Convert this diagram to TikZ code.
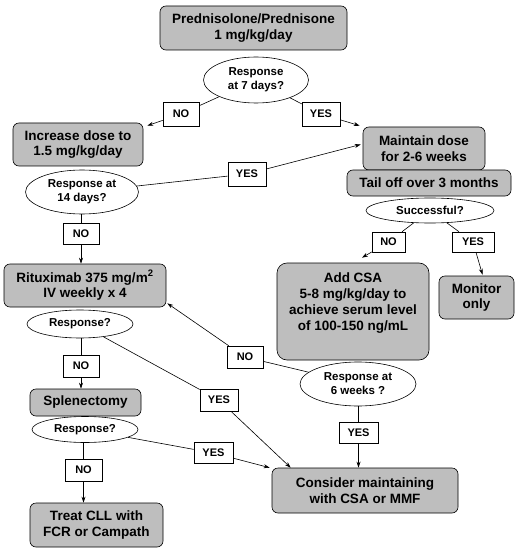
\documentclass[tikz,border=0pt]{standalone}
\usepackage{fontspec}
\setmainfont{Liberation Sans}
\usetikzlibrary{shapes.geometric,arrows.meta,calc}
\definecolor{boxgray}{RGB}{190,190,190}
\begin{document}
\begin{tikzpicture}[x=1pt,y=-1pt,
  box/.style={draw, fill=boxgray, rounded corners=6pt, align=center, inner sep=0pt,
    font=\bfseries\fontsize{13.5}{15.7}\selectfont, line width=0.6pt},
  btext/.style={align=center, inner sep=0pt, font=\bfseries\fontsize{13.5}{15.7}\selectfont},
  dec/.style={ellipse, draw, fill=white, align=center, inner sep=0pt,
    font=\bfseries\fontsize{11.5}{14}\selectfont, line width=0.6pt},
  lbl/.style={draw, fill=white, inner sep=0pt, minimum height=22pt,
    font=\bfseries\fontsize{11}{12}\selectfont, line width=0.6pt},
  conn/.style={line width=0.6pt},
  arr/.style={line width=0.6pt, -{Stealth[length=6pt,width=4pt]}}
]
\useasboundingbox[fill=white] (0,0) rectangle (520,556);

% boxes
\node[box, minimum width=187pt, minimum height=44pt] (pred) at (253.5,28) {Prednisolone/Prednisone\\1 mg/kg/day};
\node[box, minimum width=130pt, minimum height=43pt] (inc) at (78,144.5) {Increase dose to\\1.5 mg/kg/day};
\node[box, minimum width=122pt, minimum height=43pt] (maint) at (424,148.5) {Maintain dose\\for 2-6 weeks};
\node[box, minimum width=164pt, minimum height=26pt] (tail) at (429,183) {Tail off over 3 months};
\node[box, minimum width=162pt, minimum height=43pt] (rit) at (85,285.5) {Rituximab 375 mg/m\textsuperscript{2}\\IV weekly x 4};
\node[box, rounded corners=10pt, minimum width=152pt, minimum height=97pt] (addcsa) at (353,311.5) {};
\node[btext] (addcsatext) at (353,303) {Add CSA\\5-8 mg/kg/day to\\achieve serum level\\of 100-150 ng/mL};
\node[box, minimum width=75pt, minimum height=43pt] (mon) at (476.5,297.5) {Monitor\\only};
\node[box, minimum width=111pt, minimum height=27pt] (splen) at (85.5,402.5) {Splenectomy};
\node[box, minimum width=133pt, minimum height=44pt] (cll) at (96.5,525) {Treat CLL with\\FCR or Campath};
\node[box, minimum width=186pt, minimum height=45pt] (cons) at (365,490.5) {Consider maintaining\\with CSA or MMF};

% decisions
\node[dec, minimum width=105pt, minimum height=46pt] (e7) at (256,80) {Response\\at 7 days?};
\node[dec, minimum width=113pt, minimum height=44pt] (e14) at (82,192) {Response at\\14 days?};
\node[dec, minimum width=128pt, minimum height=25pt] (succ) at (430,210.5) {Successful?};
\node[dec, minimum width=106pt, minimum height=28pt] (er1) at (80,324) {Response?};
\node[dec, minimum width=106pt, minimum height=26pt] (er2) at (85,429.5) {Response?};
\node[dec, minimum width=116pt, minimum height=44pt] (e6) at (358,384) {Response at\\6 weeks ?};

% labels
\node[lbl, minimum width=36pt, minimum height=24pt] (no7) at (181,114) {NO};
\node[lbl, minimum width=38pt, minimum height=24pt] (yes7) at (321,114) {YES};
\node[lbl, minimum width=38pt, minimum height=24pt] (yes14) at (247,174) {YES};
\node[lbl, minimum width=36pt, minimum height=21pt] (no14) at (81,233.5) {NO};
\node[lbl, minimum width=33pt, minimum height=20pt] (nosucc) at (388.5,242) {NO};
\node[lbl, minimum width=42pt, minimum height=20pt] (yessucc) at (473,242) {YES};
\node[lbl, minimum width=36pt, minimum height=22pt] (nor1) at (81,366) {NO};
\node[lbl, minimum width=36pt, minimum height=22pt] (no6) at (245,357) {NO};
\node[lbl, minimum width=38pt, minimum height=22pt] (yesr1) at (219,400) {YES};
\node[lbl, minimum width=39pt, minimum height=21pt] (yes6) at (358.5,432.5) {YES};
\node[lbl, minimum width=39pt, minimum height=21pt] (yesr2) at (213.5,453) {YES};
\node[lbl, minimum width=37pt, minimum height=22pt] (nor2) at (83.5,470) {NO};

% connectors
\draw[arr] (e7) -- (no7) -- ([shift={(4,3)}]inc.north east);
\draw[arr] (e7) -- (yes7) -- ([shift={(-3,-1)}]maint.north west);
\draw[arr] (e14) -- (yes14) -- ([shift={(-2,-4)}]maint.west);
\draw[conn] (e14.south -| no14) -- (no14.north);
\draw[arr] (no14.south) -- (no14.south |- rit.north);
\draw[arr] (succ) -- (nosucc) -- ([shift={(9,-5)}]addcsa.north);
\draw[arr] (succ) -- (yessucc) -- ([shift={(6,-1)}]mon.north);
\draw[conn] (er1.south -| nor1) -- (nor1.north);
\draw[arr] (nor1.south) -- (nor1.south |- splen.north);
\draw[conn] (er2.south -| nor2) -- (nor2.north);
\draw[arr] (nor2.south) -- (nor2.south |- cll.north);
\draw[arr] (e6) -- (no6) -- ([shift={(1,-4)}]rit.south east);
\draw[arr] (er1) -- (yesr1) -- ([xshift=19]cons.north west);
\draw[arr] (er2) -- (yesr2) -- ([shift={(-2,0)}]cons.north west);
\draw[conn] (e6.south -| yes6) -- (yes6.north);
\draw[arr] (yes6.south) -- (yes6.south |- cons.north);
\end{tikzpicture}
\end{document}
